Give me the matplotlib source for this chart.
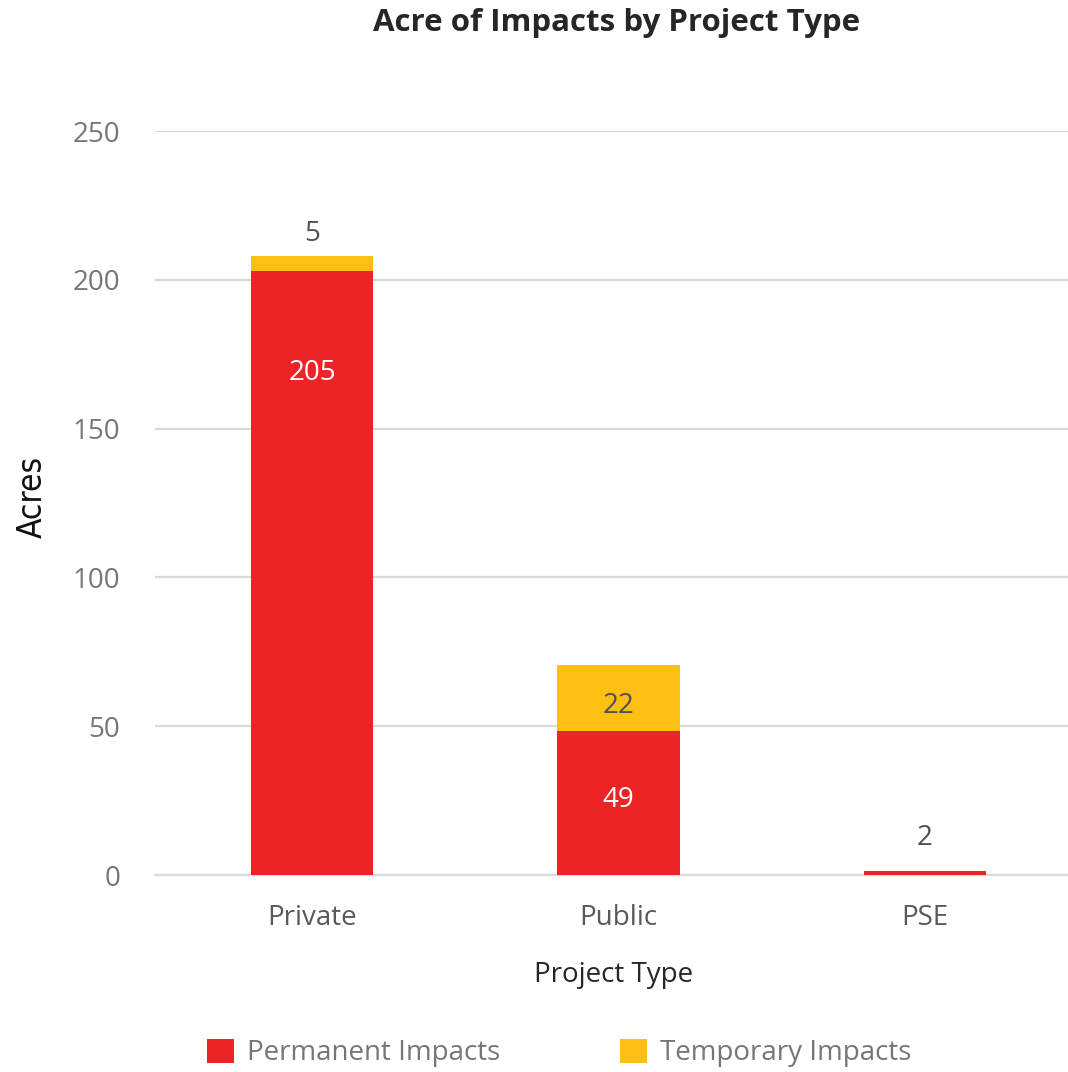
import matplotlib
matplotlib.use("Agg")
import matplotlib.pyplot as plt
from matplotlib.patches import Patch
import numpy as np

# Chart data (acres)
categories = ["Private", "Public", "PSE"]
permanent = [203, 48.5, 1.5]
temporary = [5, 22, 0]
permanent_labels = ["205", "49", ""]
temporary_labels = ["5", "22", "2"]
yticks = [0, 50, 100, 150, 200, 250]

RED = "#EE2326"
YELLOW = "#FCBF12"
GRID = "#D9D9D9"
TICK_GREY = "#767676"
LABEL_DARK = "#505050"

plt.rcParams['font.family'] = ['Open Sans', 'DejaVu Sans']

fig = plt.figure(figsize=(10.68, 10.72), dpi=100)
ax = fig.add_axes([155 / 1068, 1 - 875 / 1072, 923 / 1068, 744 / 1072])

x = np.arange(len(categories))
perm = np.array(permanent, dtype=float)
temp = np.array(temporary, dtype=float)

ax.bar(x, perm, width=0.4, color=RED, zorder=3)
ax.bar(x, temp, bottom=perm, width=0.4, color=YELLOW, zorder=3)

ax.set_xlim(-0.513, 2.5)
ax.set_ylim(0, 250)
ax.set_yticks(yticks)
ax.yaxis.grid(True, color=GRID, lw=1.6, zorder=0)
ax.set_axisbelow(True)
for s in ["top", "right", "left"]:
    ax.spines[s].set_visible(False)
ax.spines["bottom"].set_color(GRID)
ax.spines["bottom"].set_linewidth(1.6)
ax.tick_params(axis="both", length=0, labelsize=20, labelcolor=TICK_GREY)
ax.tick_params(axis="y", pad=25)
ax.tick_params(axis="x", pad=21, labelcolor="#595959")
ax.set_xticks(x)
ax.set_xticklabels(categories)

# Data labels (placed like the original: some inside, some above)
perm_offset = [-33, 0, 0]   # relative to segment top, 0 = segment centre
temp_offset = [8.5, 0, 12]
for i in range(len(categories)):
    if permanent_labels[i]:
        if perm_offset[i]:
            yp = perm[i] + perm_offset[i]
        else:
            yp = perm[i] / 2.0 + 2
        ax.text(x[i], yp, permanent_labels[i], ha="center",
                va="center_baseline", color="white", fontsize=20, zorder=4)
    if temporary_labels[i]:
        top = perm[i] + temp[i]
        if temp_offset[i]:
            yt = top + temp_offset[i]
        else:
            yt = perm[i] + temp[i] / 2.0 - 1.5
        ax.text(x[i], yt, temporary_labels[i], ha="center",
                va="center_baseline", color=LABEL_DARK, fontsize=20, zorder=4)

fig.text(617 / 1068, 1 - 23 / 1072, "Acre of Impacts by Project Type",
         ha="center", va="center", fontsize=22.5, fontweight="bold",
         color="#262626")
fig.text(614 / 1068, 1 - 975 / 1072, "Project Type", ha="center",
         va="center", fontsize=20, color="#262626")
fig.text(32 / 1068, 1 - 497 / 1072, "Acres", ha="center", va="center",
         rotation=90, fontsize=24, color="#111111",
         family="DejaVu Sans", fontstretch="condensed")

handles = [Patch(facecolor=RED, label="Permanent Impacts"),
           Patch(facecolor=YELLOW, label="Temporary Impacts")]
fig.legend(handles=handles, loc="center", ncol=2,
           bbox_to_anchor=(559 / 1068, 1 - 1053 / 1072), frameon=False,
           fontsize=20, labelcolor=TICK_GREY, handlelength=1.0,
           handleheight=1.0, handletextpad=0.45, columnspacing=4.3)

fig.savefig("out.png", dpi=100)
